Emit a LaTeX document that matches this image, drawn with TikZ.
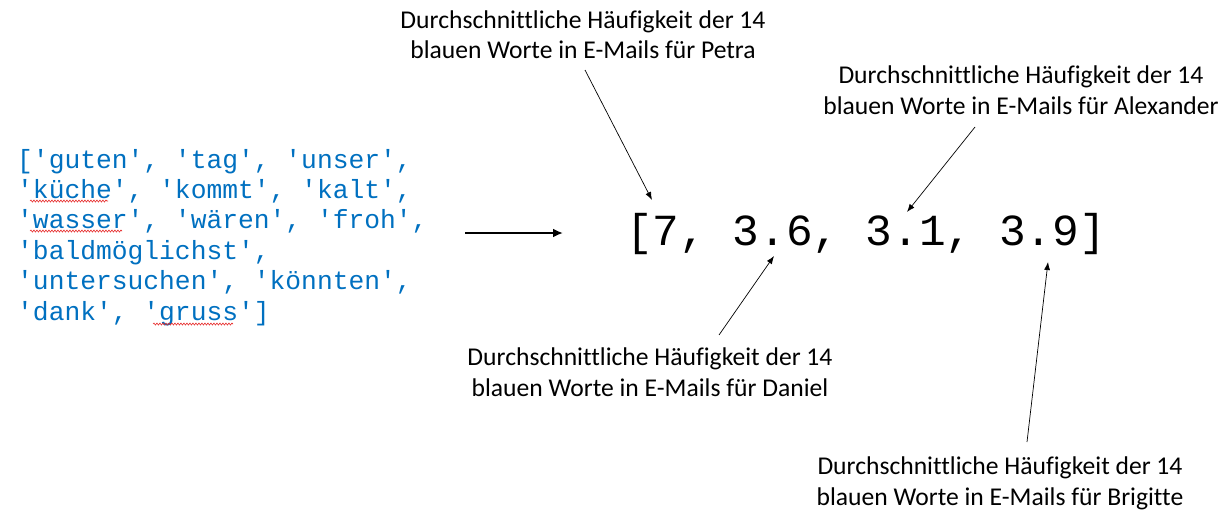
\documentclass[tikz,border=0pt]{standalone}
\usepackage{fontspec}
\setmainfont[Ligatures={NoCommon}]{Carlito}
\newfontfamily\codefont{Liberation Mono}
\usetikzlibrary{arrows.meta,decorations.pathmorphing}
\definecolor{codeblue}{RGB}{0,112,192}
\definecolor{wavyred}{RGB}{230,40,40}
\tikzset{
  lbl/.style={align=center, anchor=base, font=\fontsize{25.6}{30.5}\selectfont, inner sep=0pt},
  ptr/.style={-{Latex[length=8pt,width=6pt]}, line width=0.7pt},
  bigarrow/.style={-{Latex[length=10pt,width=9pt]}, line width=2.5pt},
  wavy/.style={wavyred, line width=0.6pt, decorate, decoration={snake, amplitude=1pt, segment length=3pt}}
}
\begin{document}
\begin{tikzpicture}[x=1pt,y=-1pt]
\useasboundingbox (0,0) rectangle (1227,530);
% word list
\node (words) [anchor=base west, inner sep=0pt, align=left, text=codeblue,
  font=\codefont\fontsize{26.3}{30.4}\selectfont] at (17,320)
  {['guten', 'tag', 'unser',\\
   'küche', 'kommt', 'kalt',\\
   'wasser', 'wären', 'froh',\\
   'baldmöglichst',\\
   'untersuchen', 'könnten',\\
   'dank', 'gruss']};
\draw[wavy] (30,201) -- (108,201);
\draw[wavy] (30,231) -- (122,231);
\draw[wavy] (153,324) -- (233,324);
% vector
\node (vec) [anchor=base west, inner sep=0pt, font=\codefont\fontsize{44.4}{50}\selectfont] at (626,245) {[7, 3.6, 3.1, 3.9]};
\coordinate (arrS) at (465,233);
\coordinate (arrE) at (563,233);
\draw[bigarrow] (arrS) -- (arrE);
% labels
\node (petra) [lbl] at (583,58.5) {Durchschnittliche Häufigkeit der 14\\blauen Worte in E-Mails für Petra};
\node (alex) [lbl] at (1021,114) {Durchschnittliche Häufigkeit der 14\\blauen Worte in E-Mails für Alexander};
\node (daniel) [lbl] at (650,396) {Durchschnittliche Häufigkeit der 14\\blauen Worte in E-Mails für Daniel};
\node (brig) [lbl] at (1000,505) {Durchschnittliche Häufigkeit der 14\\blauen Worte in E-Mails für Brigitte};
% pointer coordinates
\coordinate (pS) at (585,70);  \coordinate (pE) at (652,200);
\coordinate (aS) at (975,127); \coordinate (aE) at (907,212);
\coordinate (dS) at (719,335); \coordinate (dE) at (774,256);
\coordinate (bS) at (1027,442);\coordinate (bE) at (1048,262);
\draw[ptr] (pS) -- (pE);
\draw[ptr] (aS) -- (aE);
\draw[ptr] (dS) -- (dE);
\draw[ptr] (bS) -- (bE);
\end{tikzpicture}
\end{document}
